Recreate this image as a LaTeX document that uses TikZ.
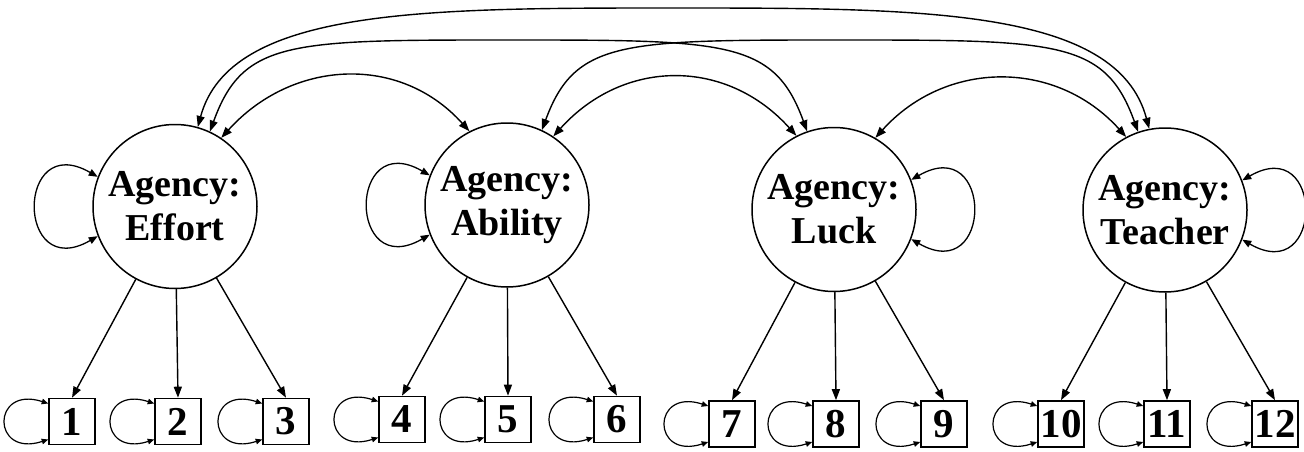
\documentclass[tikz,border=0pt]{standalone}
\usepackage{fontspec}
\setmainfont{Liberation Serif}
\usetikzlibrary{arrows.meta}
\begin{document}
\begin{tikzpicture}[x=1pt,y=1pt,
  factor/.style={circle,draw,line width=1.5pt,minimum size=164pt,inner sep=0pt,
    align=center,font=\fontsize{38}{44}\selectfont\bfseries},
  item/.style={rectangle,draw,line width=1.6pt,minimum size=46pt,inner sep=0pt,
    font=\fontsize{41}{41}\selectfont\bfseries},
  load/.style={-{Triangle[length=11pt,width=8pt]},line width=1.4pt},
  cov/.style={{Triangle[length=11pt,width=8pt]}-{Triangle[length=11pt,width=8pt]},line width=1.4pt},
  fvar/.style={{Triangle[length=9pt,width=7pt]}-{Triangle[length=9pt,width=7pt]},line width=1.3pt},
  evar/.style={{Triangle[length=6.5pt,width=5.5pt]}-{Triangle[length=6.5pt,width=5.5pt]},line width=1.2pt}]
\fill[white] (0,0) rectangle (1304,451);
\useasboundingbox (0,0) rectangle (1304,451);

% latent factors
\node[factor] (effort)  at (175,244.5) {Agency:\\Effort};
\node[factor] (ability) at (507,246)   {Agency:\\Ability};
\node[factor] (luck)    at (834,241.5) {Agency:\\Luck};
\node[factor] (teacher) at (1165,241)  {Agency:\\Teacher};

% indicators
\node[item] (b1)  at (72,29.5)  {1};
\node[item] (b2)  at (178,29.5) {2};
\node[item] (b3)  at (286,29.5) {3};
\node[item] (b4)  at (402,31.5) {4};
\node[item] (b5)  at (508,31.5) {5};
\node[item] (b6)  at (617,31.5) {6};
\node[item] (b7)  at (732,27)   {7};
\node[item] (b8)  at (836,27)   {8};
\node[item] (b9)  at (944,27)   {9};
\node[item] (b10) at (1061,27)  {10};
\node[item] (b11) at (1167,27)  {11};
\node[item] (b12) at (1275,27)  {12};

% loadings
\foreach \f/\i/\j/\k in {effort/1/2/3, ability/4/5/6, luck/7/8/9, teacher/10/11/12} {
  \draw[load] (\f) -- (b\i.north);
  \draw[load] (\f) -- (b\j.north);
  \draw[load] (\f) -- (b\k.north);
}

% error variances of the indicators
\foreach \i in {1,...,12}
  \draw[evar] ([yshift=18pt]b\i.west) .. controls +(162:60) and +(198:60) .. ([yshift=-18pt]b\i.west);

% factor variances
\draw[fvar] (effort.159)  .. controls +(150:95) and +(210:95) .. (effort.201);
\draw[fvar] (ability.159) .. controls +(150:95) and +(210:95) .. (ability.201);
\draw[fvar] (luck.21)     .. controls +(30:95)  and +(-30:95) .. (luck.-21);
\draw[fvar] (teacher.21)  .. controls +(30:95)  and +(-30:95) .. (teacher.-21);

% factor covariances
\draw[cov] (effort.56)  .. controls +(48:105) and +(132:105) .. (ability.117);
\draw[cov] (ability.56) .. controls +(48:105) and +(132:105) .. (luck.117);
\draw[cov] (luck.60)    .. controls +(48:105) and +(132:105) .. (teacher.118);
\draw[cov] (effort.65)  .. controls (243,411) and (290,411) .. (508,411)
                        .. controls (727,411) and (774,411) .. (luck.109);
\draw[cov] (ability.65) .. controls (575,411) and (622,411) .. (840,411)
                        .. controls (1058,411) and (1105,411) .. (teacher.109);
\draw[cov] (effort.74)  .. controls (230,443) and (424,443) .. (673,443)
                        .. controls (923,443) and (1117,443) .. (teacher.101);
\end{tikzpicture}
\end{document}
